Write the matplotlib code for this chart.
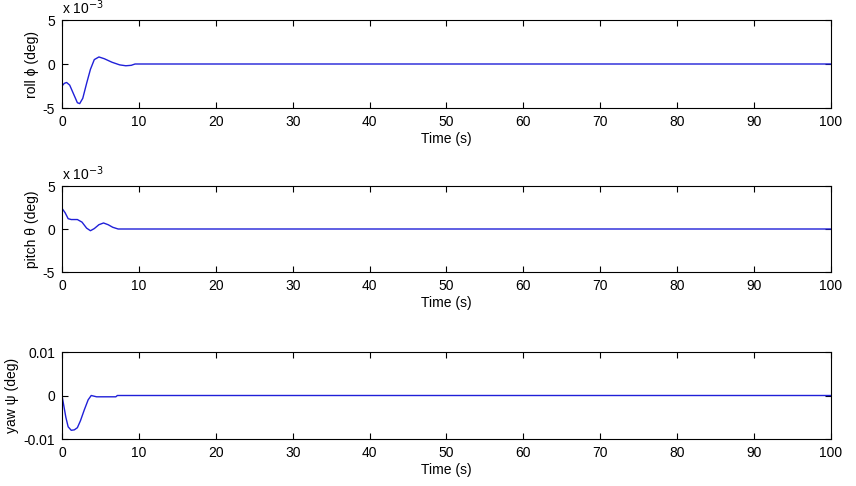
import matplotlib
matplotlib.use('Agg')
from matplotlib import pyplot as plt
import numpy as np

plt.rcParams['font.family'] = ['Liberation Sans', 'DejaVu Sans']
plt.rcParams['font.size'] = 10

# time history (s, deg)
t_roll = [0, 0.3, 0.6, 1.0, 1.5, 2.0, 2.3, 2.7, 3.2, 3.7, 4.2, 4.8, 5.5, 6.5, 7.5, 8.3, 9.0, 9.5, 100]
roll = [-2.5e-3, -2.2e-3, -2.1e-3, -2.4e-3, -3.4e-3, -4.4e-3, -4.5e-3, -3.9e-3, -2.2e-3, -0.6e-3, 0.5e-3, 0.8e-3, 0.6e-3, 0.2e-3, -0.1e-3, -0.2e-3, -0.15e-3, 0, 0]

t_pitch = [0, 0.4, 0.8, 1.2, 2.0, 2.6, 3.2, 3.7, 4.2, 4.8, 5.4, 6.0, 6.6, 7.3, 100]
pitch = [2.4e-3, 1.9e-3, 1.2e-3, 1.1e-3, 1.1e-3, 0.8e-3, 0.1e-3, -0.2e-3, 0.05e-3, 0.5e-3, 0.7e-3, 0.5e-3, 0.2e-3, 0, 0]

t_yaw = [0, 0.2, 0.5, 0.8, 1.2, 1.6, 2.0, 2.4, 2.9, 3.4, 3.8, 4.5, 5.5, 7.0, 7.2, 100]
yaw = [0, -0.002, -0.005, -0.0072, -0.008, -0.0079, -0.0074, -0.0058, -0.0033, -0.001, 0, -0.0003, -0.0003, -0.0003, 0, 0]

labels = [u'roll \u03d5 (deg)', u'pitch \u03b8 (deg)', u'yaw \u03c8 (deg)']
ylims = [(-5e-3, 5e-3), (-5e-3, 5e-3), (-0.01, 0.01)]

fig = plt.figure(figsize=(8.56, 4.86), dpi=100)
boxes = [(62, 20, 831, 108), (62, 186, 831, 272), (62, 352, 831, 439)]
series = [(t_roll, roll), (t_pitch, pitch), (t_yaw, yaw)]

for i in range(3):
    x0, y0, x1, y1 = boxes[i]
    ax = fig.add_axes([x0 / 856, 1 - y1 / 486, (x1 - x0) / 856, (y1 - y0) / 486])
    t, v = series[i]
    ax.plot(t, v, color='#2020d8', lw=1.0)
    ax.set_xlim(0, 100)
    ax.set_ylim(ylims[i])
    ax.set_xticks(np.arange(0, 101, 10))
    ax.tick_params(direction='in', top=True, right=True, length=4, width=0.8, pad=5, labelsize=10)
    ax.set_xlabel('Time (s)', labelpad=2, fontsize=10)
    ax.set_ylabel(labels[i], labelpad=3, fontsize=10)
    if i < 2:
        ax.set_yticks([-5e-3, 0, 5e-3])
        ax.set_yticklabels(['-5', '0', '5'])
        ax.text(0, 1.03, r'x 10$^{-3}$', transform=ax.transAxes, fontsize=10, va='bottom')
    else:
        ax.set_yticks([-0.01, 0, 0.01])
        ax.set_yticklabels(['-0.01', '0', '0.01'])
    for s in ax.spines.values():
        s.set_linewidth(0.8)

plt.savefig('out.png', dpi=100)
